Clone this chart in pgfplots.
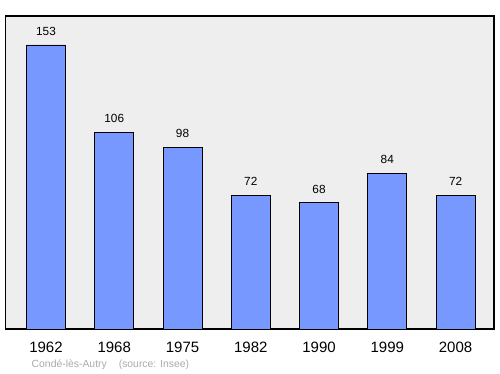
\documentclass[border=0pt]{standalone}
\usepackage{fontspec}
\setmainfont{Liberation Sans}
\usepackage{pgfplots}
\pgfplotsset{compat=1.18}
\definecolor{barblue}{HTML}{7799FF}
\definecolor{bg}{HTML}{EEEEEE}
\definecolor{srcgray}{HTML}{AAAAAA}
\begin{document}
\begin{tikzpicture}
\useasboundingbox (0,0) rectangle (500bp,374bp);
\begin{axis}[
  at={(5.5bp,45bp)}, anchor=south west,
  scale only axis, width=488.5bp, height=313bp,
  xmin=-0.593, xmax=6.563, ymin=0, ymax=168.6,
  axis background/.style={fill=bg},
  axis line style={line width=1.2bp, black},
  xtick=data, xticklabels={1962,1968,1975,1982,1990,1999,2008},
  ytick=\empty, major tick length=0pt,
  xticklabel style={font=\fontsize{15bp}{17bp}\selectfont, anchor=center, yshift=-18bp},
  ybar, bar width=39bp,
  nodes near coords,
  nodes near coords style={font=\fontsize{11.8bp}{13bp}\selectfont, anchor=south, inner sep=0pt, yshift=9bp},
  /pgf/number format/assume math mode=true,
]
\addplot[fill=barblue, draw=black, line width=0.8bp] coordinates {(0,153) (1,106) (2,98) (3,72) (4,68) (5,84) (6,72)};
\end{axis}
\node[anchor=west, text=srcgray, font=\fontsize{10.4bp}{12bp}\selectfont, inner sep=0pt] at (31.5bp,9bp) {Condé-lès-Autry\hspace{1.15em}(source: Insee)};
\end{tikzpicture}
\end{document}
